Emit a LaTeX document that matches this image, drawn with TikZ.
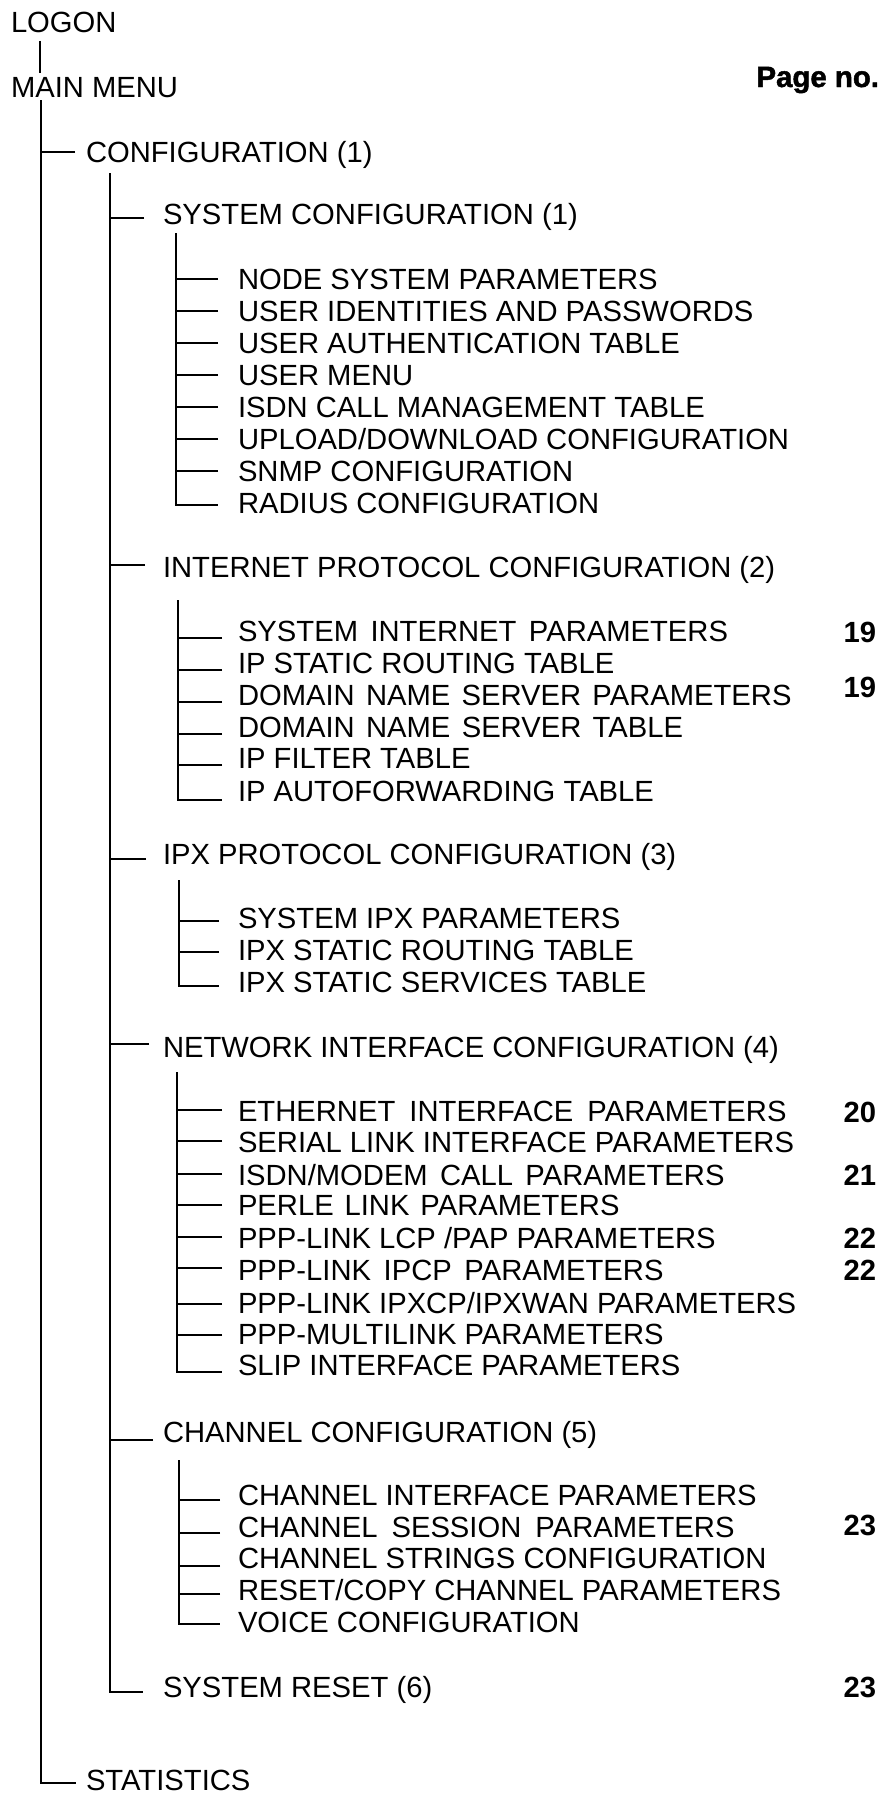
\documentclass[tikz,border=0pt]{standalone}
\usepackage{fontspec}
\setmainfont{Liberation Sans}
\newfontfamily\heavyfont{Liberation Sans}[BoldFeatures={FakeBold=1.6}]
\usetikzlibrary{calc}
\newcommand\stretchto[2]{\makebox[#1pt][s]{#2}}
% branch: trunk coordinate, node name, gap left of text, rise above baseline
\newcommand\branch[4]{%
  \path (#2.base west) ++(-#3,-#4) coordinate (#2b);
  \draw (#2b) -- (#2b -| #1);}
\newcommand\branchpt[4]{%
  \path (#2.base west) ++(-#3,-#4) coordinate (#2b);}
\begin{document}
\begin{tikzpicture}[x=1pt,y=-1pt,line width=2.8pt,
  lbl/.style={anchor=base west,inner sep=0pt,outer sep=0pt,font=\fontsize{29.2}{32}\selectfont},
  pg/.style={anchor=base east,inner sep=0pt,outer sep=0pt,font=\fontsize{29.2}{32}\selectfont\bfseries},
  pghead/.style={anchor=base east,inner sep=0pt,outer sep=0pt,font=\fontsize{29.4}{32}\selectfont\heavyfont\bfseries}]
\useasboundingbox (0,0) rectangle (892,1793);

% ---- top
\node[lbl] (logon) at (11,33) {LOGON};
\node[lbl] (main) at (11,97) {MAIN MENU};
\node[pghead] (pageno) at (879,87) {Page no.};

\path (logon.base west) ++(29,8) coordinate (t0);
\draw (t0) -- ($(t0 |- main.north)+(0,-4)$);

% ---- level 1
\node[lbl] (config) at (86,162) {CONFIGURATION (1)};
\node[lbl] (stat) at (86,1790) {STATISTICS};
\path (main.base west) ++(30,3) coordinate (t1);
\branch{t1}{config}{11}{10}
\branchpt{t1}{stat}{10}{7}
\draw (t1) |- (statb);

% ---- level 2
\node[lbl] (sysconf) at (163,224) {SYSTEM CONFIGURATION (1)};
\node[lbl] (inet) at (163,577) {INTERNET PROTOCOL CONFIGURATION (2)};
\node[lbl] (ipx) at (163,864) {IPX PROTOCOL CONFIGURATION (3)};
\node[lbl] (net) at (163,1057) {NETWORK INTERFACE CONFIGURATION (4)};
\node[lbl] (chan) at (163,1442) {CHANNEL CONFIGURATION (5)};
\node[lbl] (sysreset) at (163,1697) {SYSTEM RESET (6)};
\path (config.base west) ++(24,11) coordinate (t2);
\branch{t2}{sysconf}{19}{6}
\branch{t2}{inet}{18}{12}
\branch{t2}{ipx}{17}{5}
\branch{t2}{net}{14}{13}
\branch{t2}{chan}{10}{2}
\branchpt{t2}{sysreset}{20}{5}
\draw (t2) |- (sysresetb);

% ---- system configuration
\node[lbl] (n1) at (238,289) {NODE SYSTEM PARAMETERS};
\node[lbl] (n2) at (238,321) {USER IDENTITIES AND PASSWORDS};
\node[lbl] (n3) at (238,353) {USER AUTHENTICATION TABLE};
\node[lbl] (n4) at (238,385) {USER MENU};
\node[lbl] (n5) at (238,417) {ISDN CALL MANAGEMENT TABLE};
\node[lbl] (n6) at (238,449) {UPLOAD/DOWNLOAD CONFIGURATION};
\node[lbl] (n7) at (238,481) {SNMP CONFIGURATION};
\node[lbl] (n8) at (238,513) {RADIUS CONFIGURATION};
\path (sysconf.base west) ++(13,9) coordinate (t3a);
\foreach \n in {n1,n2,n3,n4,n5,n6,n7}{\branch{t3a}{\n}{20}{10}}
\branchpt{t3a}{n8}{20}{8}
\draw (t3a) |- (n8b);

% ---- internet protocol configuration
\node[lbl] (i1) at (238,641) {\stretchto{490}{SYSTEM INTERNET PARAMETERS}};
\node[lbl] (i2) at (238,673) {IP STATIC ROUTING TABLE};
\node[lbl] (i3) at (238,705) {\stretchto{553.5}{DOMAIN NAME SERVER PARAMETERS}};
\node[lbl] (i4) at (238,737) {\stretchto{445}{DOMAIN NAME SERVER TABLE}};
\node[lbl] (i5) at (238,768) {IP FILTER TABLE};
\node[lbl] (i6) at (238,801) {IP AUTOFORWARDING TABLE};
\path (inet.base west) ++(15,23) coordinate (t3b);
\foreach \n in {i1,i2,i3,i4,i5}{\branch{t3b}{\n}{16}{3}}
\branchpt{t3b}{i6}{16}{1}
\draw (t3b) |- (i6b);

% ---- ipx protocol configuration
\node[lbl] (x1) at (238,928) {SYSTEM IPX PARAMETERS};
\node[lbl] (x2) at (238,960) {IPX STATIC ROUTING TABLE};
\node[lbl] (x3) at (238,992) {IPX STATIC SERVICES TABLE};
\path (ipx.base west) ++(16,16) coordinate (t3c);
\branch{t3c}{x1}{19}{7}
\branch{t3c}{x2}{19}{8}
\branchpt{t3c}{x3}{19}{6}
\draw (t3c) |- (x3b);

% ---- network interface configuration
\node[lbl] (e1) at (238,1121) {\stretchto{548.5}{ETHERNET INTERFACE PARAMETERS}};
\node[lbl] (e2) at (238,1152) {SERIAL LINK INTERFACE PARAMETERS};
\node[lbl] (e3) at (238,1185) {\stretchto{486.5}{ISDN/MODEM CALL PARAMETERS}};
\node[lbl] (e4) at (238,1215) {\stretchto{381.5}{PERLE LINK PARAMETERS}};
\node[lbl] (e5) at (238,1248) {PPP-LINK LCP /PAP PARAMETERS};
\node[lbl] (e6) at (238,1280) {\stretchto{425.5}{PPP-LINK IPCP PARAMETERS}};
\node[lbl] (e7) at (238,1313) {PPP-LINK IPXCP/IPXWAN PARAMETERS};
\node[lbl] (e8) at (238,1344) {PPP-MULTILINK PARAMETERS};
\node[lbl] (e9) at (238,1375) {SLIP INTERFACE PARAMETERS};
\path (net.base west) ++(14,15) coordinate (t3d);
\branch{t3d}{e1}{16}{11}
\branch{t3d}{e2}{16}{11}
\branch{t3d}{e3}{16}{11}
\branch{t3d}{e4}{16}{10}
\branch{t3d}{e5}{16}{11}
\branch{t3d}{e6}{16}{12}
\branch{t3d}{e7}{16}{9}
\branch{t3d}{e8}{16}{9}
\branchpt{t3d}{e9}{16}{3}
\draw (t3d) |- (e9b);

% ---- channel configuration
\node[lbl] (c1) at (238,1505) {CHANNEL INTERFACE PARAMETERS};
\node[lbl] (c2) at (238,1537) {\stretchto{496.5}{CHANNEL SESSION PARAMETERS}};
\node[lbl] (c3) at (238,1568) {CHANNEL STRINGS CONFIGURATION};
\node[lbl] (c4) at (238,1600) {RESET/COPY CHANNEL PARAMETERS};
\node[lbl] (c5) at (238,1632) {VOICE CONFIGURATION};
\path (chan.base west) ++(16,18) coordinate (t3e);
\branch{t3e}{c1}{18}{5}
\branch{t3e}{c2}{18}{4}
\branch{t3e}{c3}{18}{2}
\branch{t3e}{c4}{18}{6}
\branchpt{t3e}{c5}{18}{8}
\draw (t3e) |- (c5b);

% ---- page numbers
\node[pg] (p1) at (876,642) {19};
\node[pg] (p2) at (876,697) {19};
\node[pg] (p3) at (876,1122) {20};
\node[pg] (p4) at (876,1185) {21};
\node[pg] (p5) at (876,1248) {22};
\node[pg] (p6) at (876,1280) {22};
\node[pg] (p7) at (876,1535) {23};
\node[pg] (p8) at (876,1697) {23};
\end{tikzpicture}
\end{document}
